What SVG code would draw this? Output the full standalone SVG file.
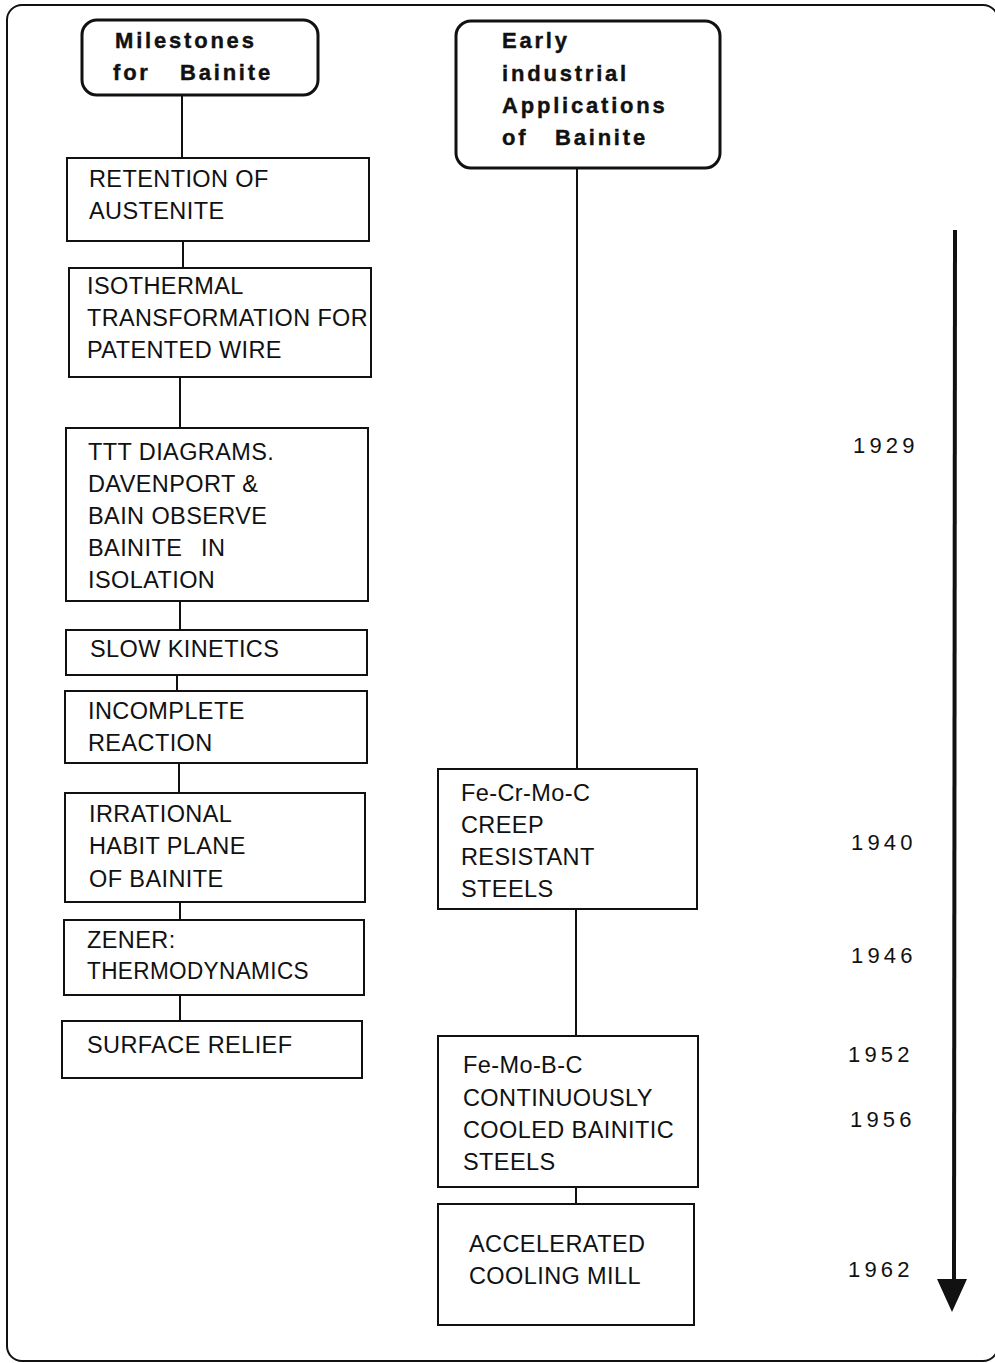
<svg xmlns="http://www.w3.org/2000/svg" width="995" height="1363" viewBox="0 0 995 1363">
<style>
  .frame{fill:none;stroke:#111;stroke-width:2}
  .hdr{fill:#fff;stroke:#111;stroke-width:3}
  .box{fill:#fff;stroke:#111;stroke-width:2}
  .ln{stroke:#111;stroke-width:2;fill:none}
  .ht{font-family:"Liberation Sans",Arial,sans-serif;font-weight:bold;font-size:22px;letter-spacing:2.8px;fill:#111;stroke:#111;stroke-width:0.4}
  .bt{font-family:"Liberation Sans",Arial,sans-serif;font-size:23.5px;letter-spacing:0.4px;fill:#111}
  .yr{font-family:"Liberation Sans",Arial,sans-serif;font-size:22px;letter-spacing:4.2px;fill:#111}
</style>
<rect width="995" height="1363" fill="#fff"/>
<rect class="frame" x="7" y="5" width="991" height="1356" rx="15"/>

<g id="connectors">
  <line class="ln" x1="182" y1="95" x2="182" y2="158"/>
  <line class="ln" x1="183" y1="241" x2="183" y2="268"/>
  <line class="ln" x1="180" y1="377" x2="180" y2="428"/>
  <line class="ln" x1="180" y1="601" x2="180" y2="630"/>
  <line class="ln" x1="177" y1="675" x2="177" y2="691"/>
  <line class="ln" x1="179" y1="763" x2="179" y2="793"/>
  <line class="ln" x1="180" y1="902" x2="180" y2="920"/>
  <line class="ln" x1="180" y1="995" x2="180" y2="1021"/>
  <line class="ln" x1="577" y1="168" x2="577" y2="769"/>
  <line class="ln" x1="576" y1="909" x2="576" y2="1036"/>
  <line class="ln" x1="576" y1="1187" x2="576" y2="1204"/>
</g>

<g id="timeline">
  <line x1="955" y1="230" x2="954" y2="1282" stroke="#111" stroke-width="4"/>
  <polygon points="937,1279 967,1279 952,1312" fill="#111"/>
</g>

<g id="hdr-milestones">
  <rect class="hdr" x="82" y="20" width="236" height="75" rx="15"/>
  <text class="ht" x="115" y="48">Milestones</text>
  <text class="ht" y="80"><tspan x="113">for</tspan><tspan x="180">Bainite</tspan></text>
</g>

<g id="hdr-applications">
  <rect class="hdr" x="456" y="21" width="264" height="147" rx="15"/>
  <text class="ht" x="502" y="48">Early</text>
  <text class="ht" x="502" y="81">industrial</text>
  <text class="ht" x="502" y="113">Applications</text>
  <text class="ht" y="145"><tspan x="502">of</tspan><tspan x="555">Bainite</tspan></text>
</g>

<g id="n-retention">
  <rect class="box" x="67" y="158" width="302" height="83"/>
  <text class="bt" x="89" y="187">RETENTION OF</text>
  <text class="bt" x="89" y="219">AUSTENITE</text>
</g>

<g id="n-isothermal">
  <rect class="box" x="69" y="268" width="302" height="109"/>
  <text class="bt" x="87" y="294">ISOTHERMAL</text>
  <text class="bt" x="87" y="326" textLength="281" lengthAdjust="spacingAndGlyphs">TRANSFORMATION FOR</text>
  <text class="bt" x="87" y="358">PATENTED WIRE</text>
</g>

<g id="n-ttt">
  <rect class="box" x="66" y="428" width="302" height="173"/>
  <text class="bt" x="88" y="460">TTT DIAGRAMS.</text>
  <text class="bt" x="88" y="492">DAVENPORT &amp;</text>
  <text class="bt" x="88" y="524">BAIN OBSERVE</text>
  <text class="bt" y="556"><tspan x="88">BAINITE</tspan><tspan x="201">IN</tspan></text>
  <text class="bt" x="88" y="588">ISOLATION</text>
</g>

<g id="n-slow">
  <rect class="box" x="66" y="630" width="301" height="45"/>
  <text class="bt" x="90" y="657">SLOW KINETICS</text>
</g>

<g id="n-incomplete">
  <rect class="box" x="65" y="691" width="302" height="72"/>
  <text class="bt" x="88" y="719">INCOMPLETE</text>
  <text class="bt" x="88" y="751">REACTION</text>
</g>

<g id="n-irrational">
  <rect class="box" x="65" y="793" width="300" height="109"/>
  <text class="bt" x="89" y="822">IRRATIONAL</text>
  <text class="bt" x="89" y="854">HABIT PLANE</text>
  <text class="bt" x="89" y="887">OF BAINITE</text>
</g>

<g id="n-zener">
  <rect class="box" x="64" y="920" width="300" height="75"/>
  <text class="bt" x="87" y="948">ZENER:</text>
  <text class="bt" x="87" y="979" textLength="222" lengthAdjust="spacingAndGlyphs">THERMODYNAMICS</text>
</g>

<g id="n-surface">
  <rect class="box" x="62" y="1021" width="300" height="57"/>
  <text class="bt" x="87" y="1053">SURFACE RELIEF</text>
</g>

<g id="n-fecrmoc">
  <rect class="box" x="438" y="769" width="259" height="140"/>
  <text class="bt" x="461" y="801">Fe-Cr-Mo-C</text>
  <text class="bt" x="461" y="833">CREEP</text>
  <text class="bt" x="461" y="865">RESISTANT</text>
  <text class="bt" x="461" y="897">STEELS</text>
</g>

<g id="n-femobc">
  <rect class="box" x="438" y="1036" width="260" height="151"/>
  <text class="bt" x="463" y="1073">Fe-Mo-B-C</text>
  <text class="bt" x="463" y="1106">CONTINUOUSLY</text>
  <text class="bt" x="463" y="1138">COOLED BAINITIC</text>
  <text class="bt" x="463" y="1170">STEELS</text>
</g>

<g id="n-mill">
  <rect class="box" x="438" y="1204" width="256" height="121"/>
  <text class="bt" x="469" y="1252">ACCELERATED</text>
  <text class="bt" x="469" y="1284">COOLING MILL</text>
</g>

<g id="years">
  <text class="yr" x="853" y="453">1929</text>
  <text class="yr" x="851" y="850">1940</text>
  <text class="yr" x="851" y="963">1946</text>
  <text class="yr" x="848" y="1062">1952</text>
  <text class="yr" x="850" y="1127">1956</text>
  <text class="yr" x="848" y="1277">1962</text>
</g>
</svg>
